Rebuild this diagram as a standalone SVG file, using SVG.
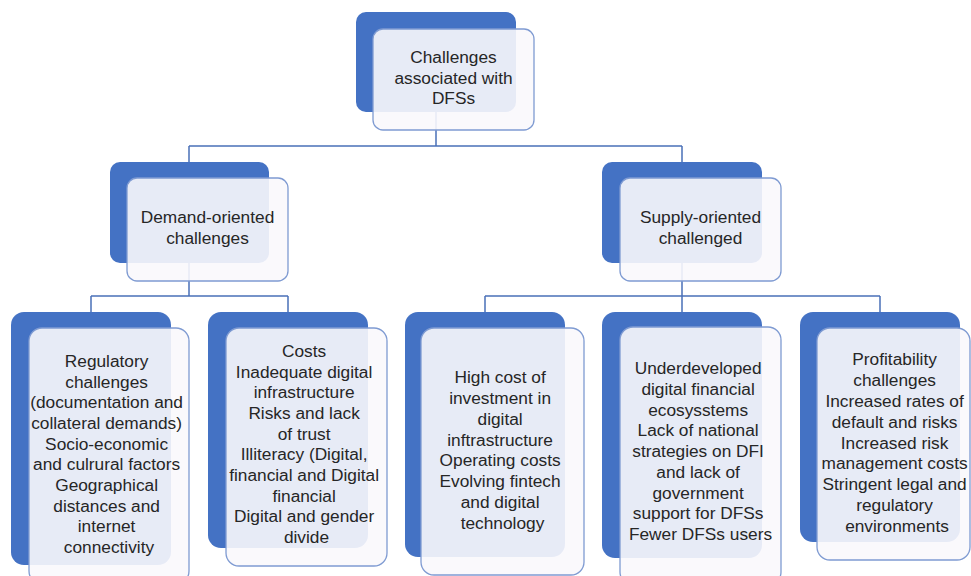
<svg xmlns="http://www.w3.org/2000/svg" width="971" height="576" viewBox="0 0 971 576">
  <style>
    .back { fill: #4472C4; }
    .front { fill: #FAF8FC; fill-opacity: 0.9; stroke: #7F9BD2; stroke-width: 1.3; }
    .lbl { font-family: "Liberation Sans", Arial, sans-serif; font-size: 17.3px; fill: #262626; text-anchor: middle; }
    .conn { fill: none; stroke: #4A70B8; stroke-width: 1.5; }
  </style>
  <rect width="971" height="576" fill="#ffffff"/>

  <!-- tree connectors -->
  <g id="connectors">
    <path class="conn" d="M436 112 V146 M189 146 H682 M189 146 V162 M682 146 V162"/>
    <path class="conn" d="M189 263 V296 M91 296 H288 M91 296 V312 M288 296 V312"/>
    <path class="conn" d="M682 263 V296 M485 296 H880 M485 296 V312 M682 296 V312 M880 296 V312"/>
  </g>

  <!-- root -->
  <g id="node-root">
    <rect class="back" x="356" y="12" width="160" height="100" rx="10"/>
    <rect class="front" x="373" y="29" width="161" height="101" rx="10"/>
    <text class="lbl"><tspan x="453.5" y="63">Challenges</tspan><tspan x="453.5" y="83.5">associated with</tspan><tspan x="453.5" y="104">DFSs</tspan></text>
  </g>

  <!-- second level -->
  <g id="node-demand">
    <rect class="back" x="110" y="162" width="159" height="101" rx="10"/>
    <rect class="front" x="127" y="178" width="161" height="103" rx="10"/>
    <text class="lbl"><tspan x="207.5" y="223">Demand-oriented</tspan><tspan x="207.5" y="244">challenges</tspan></text>
  </g>
  <g id="node-supply">
    <rect class="back" x="602" y="162" width="160" height="101" rx="10"/>
    <rect class="front" x="620" y="178" width="161" height="103" rx="10"/>
    <text class="lbl"><tspan x="700.5" y="223">Supply-oriented</tspan><tspan x="700.5" y="244">challenged</tspan></text>
  </g>

  <!-- third level: demand side -->
  <g id="node-regulatory">
    <rect class="back" x="11" y="312" width="160" height="253" rx="13"/>
    <rect class="front" x="29" y="328" width="160" height="256" rx="13"/>
    <text class="lbl">
      <tspan x="109" y="367">Regulatory</tspan>
      <tspan x="109" y="387.7">challenges</tspan>
      <tspan x="109" y="408.3">(documentation and</tspan>
      <tspan x="109" y="429">collateral demands)</tspan>
      <tspan x="109" y="449.7">Socio-economic</tspan>
      <tspan x="109" y="470.3">and culrural factors</tspan>
      <tspan x="109" y="491">Geographical</tspan>
      <tspan x="109" y="511.7">distances and</tspan>
      <tspan x="109" y="532.3">internet</tspan>
      <tspan x="109" y="553">connectivity</tspan>
    </text>
  </g>
  <g id="node-costs">
    <rect class="back" x="208" y="312" width="160" height="236" rx="13"/>
    <rect class="front" x="226" y="328" width="161" height="238" rx="13"/>
    <text class="lbl">
      <tspan x="306.5" y="357">Costs</tspan>
      <tspan x="306.5" y="377.7">Inadequate digital</tspan>
      <tspan x="306.5" y="398.3">infrastructure</tspan>
      <tspan x="306.5" y="419">Risks and lack</tspan>
      <tspan x="306.5" y="439.7">of trust</tspan>
      <tspan x="306.5" y="460.3">Illiteracy (Digital,</tspan>
      <tspan x="306.5" y="481">financial and Digital</tspan>
      <tspan x="306.5" y="501.7">financial</tspan>
      <tspan x="306.5" y="522.3">Digital and gender</tspan>
      <tspan x="306.5" y="543">divide</tspan>
    </text>
  </g>

  <!-- third level: supply side -->
  <g id="node-investment">
    <rect class="back" x="405" y="312" width="160" height="245" rx="13"/>
    <rect class="front" x="421" y="328" width="163" height="247" rx="13"/>
    <text class="lbl">
      <tspan x="502.5" y="383">High cost of</tspan>
      <tspan x="502.5" y="403.9">investment in</tspan>
      <tspan x="502.5" y="424.7">digital</tspan>
      <tspan x="502.5" y="445.6">inftrastructure</tspan>
      <tspan x="502.5" y="466.4">Operating costs</tspan>
      <tspan x="502.5" y="487.3">Evolving fintech</tspan>
      <tspan x="502.5" y="508.1">and digital</tspan>
      <tspan x="502.5" y="529">technology</tspan>
    </text>
  </g>
  <g id="node-ecosystems">
    <rect class="back" x="602" y="312" width="160" height="246" rx="13"/>
    <rect class="front" x="620" y="327" width="161" height="258" rx="13"/>
    <text class="lbl">
      <tspan x="700.5" y="374">Underdeveloped</tspan>
      <tspan x="700.5" y="394.75">digital financial</tspan>
      <tspan x="700.5" y="415.5">ecosysstems</tspan>
      <tspan x="700.5" y="436.25">Lack of national</tspan>
      <tspan x="700.5" y="457">strategies on DFI</tspan>
      <tspan x="700.5" y="477.75">and lack of</tspan>
      <tspan x="700.5" y="498.5">government</tspan>
      <tspan x="700.5" y="519.25">support for DFSs</tspan>
      <tspan x="700.5" y="540">Fewer DFSs users</tspan>
    </text>
  </g>
  <g id="node-profitability">
    <rect class="back" x="800" y="312" width="160" height="230" rx="13"/>
    <rect class="front" x="817" y="328" width="153" height="232" rx="13"/>
    <text class="lbl">
      <tspan x="897" y="365">Profitability</tspan>
      <tspan x="897" y="385.9">challenges</tspan>
      <tspan x="897" y="406.75">Increased rates of</tspan>
      <tspan x="897" y="427.6">default and risks</tspan>
      <tspan x="897" y="448.5">Increased risk</tspan>
      <tspan x="897" y="469.4">management costs</tspan>
      <tspan x="897" y="490.25">Stringent legal and</tspan>
      <tspan x="897" y="511.1">regulatory</tspan>
      <tspan x="897" y="532">environments</tspan>
    </text>
  </g>
</svg>
